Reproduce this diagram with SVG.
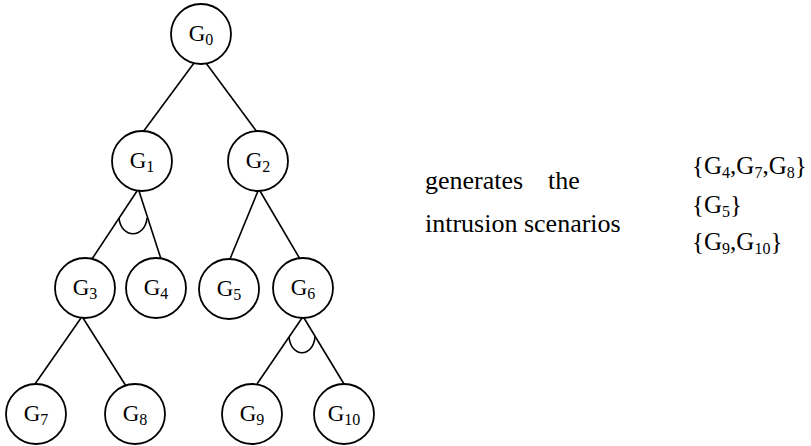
<svg xmlns="http://www.w3.org/2000/svg" width="811" height="446" viewBox="0 0 811 446">
<style>
.node circle{fill:#fff;stroke:#000;stroke-width:1.8}
.lbl{font-family:"Liberation Serif","Times New Roman",serif;font-size:23px;fill:#000;text-anchor:middle}
.sub{font-size:16px}
.edges line,.edges path{stroke:#000;stroke-width:1.6;fill:none}
.txt{font-family:"Liberation Serif","Times New Roman",serif;font-size:25px;fill:#000}
.mid{font-size:26px}
.ts{font-size:16px}
</style>
<rect width="811" height="446" fill="#fff"/>
<g class="edges" id="connectors">
<line x1="194" y1="63" x2="143" y2="132"/>
<line x1="206" y1="63" x2="257" y2="132"/>
<line x1="137" y1="191" x2="92" y2="259"/>
<line x1="139" y1="191" x2="161" y2="259"/>
<path d="M119,218 C121,239 145,239 147,218"/>
<line x1="258" y1="191" x2="230" y2="259"/>
<line x1="260" y1="191" x2="300" y2="259"/>
<line x1="81" y1="318" x2="35" y2="384"/>
<line x1="83" y1="318" x2="126" y2="386"/>
<line x1="302" y1="318" x2="257" y2="384"/>
<line x1="304" y1="318" x2="344" y2="384"/>
<path d="M289,337 C291,358 313,358 315,337"/>
</g>
<g class="node" id="G0"><circle cx="201" cy="34" r="30"/><text class="lbl" x="201" y="41">G<tspan class="sub" dy="4">0</tspan></text></g>
<g class="node" id="G1"><circle cx="142" cy="161" r="30"/><text class="lbl" x="142" y="168">G<tspan class="sub" dy="4">1</tspan></text></g>
<g class="node" id="G2"><circle cx="258" cy="161" r="30"/><text class="lbl" x="258" y="168">G<tspan class="sub" dy="4">2</tspan></text></g>
<g class="node" id="G3"><circle cx="85" cy="288" r="30"/><text class="lbl" x="85" y="295">G<tspan class="sub" dy="4">3</tspan></text></g>
<g class="node" id="G4"><circle cx="156" cy="288" r="30"/><text class="lbl" x="156" y="295">G<tspan class="sub" dy="4">4</tspan></text></g>
<g class="node" id="G5"><circle cx="229" cy="289" r="30"/><text class="lbl" x="229" y="296">G<tspan class="sub" dy="4">5</tspan></text></g>
<g class="node" id="G6"><circle cx="303" cy="288" r="30"/><text class="lbl" x="303" y="295">G<tspan class="sub" dy="4">6</tspan></text></g>
<g class="node" id="G7"><circle cx="36" cy="414" r="30"/><text class="lbl" x="36" y="421">G<tspan class="sub" dy="4">7</tspan></text></g>
<g class="node" id="G8"><circle cx="135" cy="414" r="30"/><text class="lbl" x="135" y="421">G<tspan class="sub" dy="4">8</tspan></text></g>
<g class="node" id="G9"><circle cx="252" cy="414" r="30"/><text class="lbl" x="252" y="421">G<tspan class="sub" dy="4">9</tspan></text></g>
<g class="node" id="G10"><circle cx="344" cy="414" r="30"/><text class="lbl" x="344" y="421">G<tspan class="sub" dy="4">10</tspan></text></g>
<g id="caption">
<text class="txt mid" x="425" y="189">generates</text>
<text class="txt mid" x="548" y="189">the</text>
<text class="txt mid" x="425" y="232">intrusion scenarios</text>
</g>
<g id="scenarios">
<text class="txt" x="692" y="174">{G<tspan class="ts" dy="4">4</tspan><tspan dy="-4">,G</tspan><tspan class="ts" dy="4">7</tspan><tspan dy="-4">,G</tspan><tspan class="ts" dy="4">8</tspan><tspan dy="-4">}</tspan></text>
<text class="txt" x="692" y="213">{G<tspan class="ts" dy="4">5</tspan><tspan dy="-4">}</tspan></text>
<text class="txt" x="692" y="250">{G<tspan class="ts" dy="4">9</tspan><tspan dy="-4">,G</tspan><tspan class="ts" dy="4">10</tspan><tspan dy="-4">}</tspan></text>
</g>
</svg>
